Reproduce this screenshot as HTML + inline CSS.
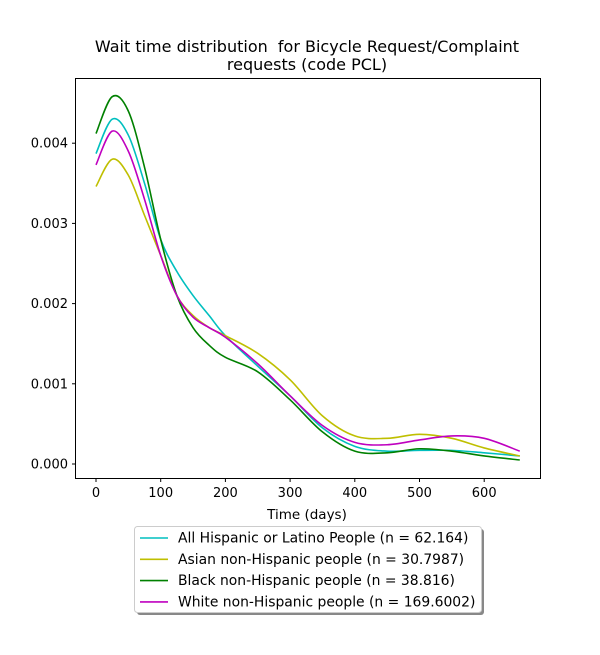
<!DOCTYPE html>
<html><head><meta charset="utf-8"><style>
body{margin:0;background:#fff;}
svg text{font-family:"DejaVu Sans","Liberation Sans",sans-serif;}
</style></head><body>
<svg id="chart" width="600" height="650" xmlns="http://www.w3.org/2000/svg">
<rect width="600" height="650" fill="#fff"/>
<text x="307" y="52" font-size="16" text-anchor="middle" style="white-space:pre">Wait time distribution&#160; for Bicycle Request/Complaint</text>
<text x="307" y="70" font-size="16" text-anchor="middle">requests (code PCL)</text>
<g id="axes"></g>
<g id="lines"></g>
<rect x="75.5" y="78.5" width="465" height="400" fill="none" stroke="#000" stroke-width="1"/>
<text x="307" y="519" font-size="13.5" text-anchor="middle">Time (days)</text>
<g id="legend">
<rect x="137" y="529" width="347" height="86" rx="3" fill="#888"/>
<rect x="134.5" y="526.5" width="347" height="86" rx="3" fill="#fff" stroke="#ccc"/>
</g>
</svg>
<script>
const xs=[0,25,50,75,100,125,150,175,200,250,300,350,400,450,500,550,600,655];
const hispanic=[0.00387,0.0043,0.0041,0.0035,0.0028,0.0024,0.0021,0.00185,0.0016,0.00122,0.00085,0.00045,0.00022,0.00016,0.00017,0.00017,0.00014,0.0001];
const asian=[0.00346,0.0038,0.0036,0.0031,0.0026,0.0021,0.00185,0.0017,0.0016,0.00138,0.00105,0.0006,0.00035,0.00032,0.00037,0.00032,0.0002,0.0001];
const black=[0.00412,0.00458,0.0044,0.0037,0.0028,0.0021,0.0017,0.00148,0.00133,0.00115,0.0008,0.0004,0.00016,0.00014,0.00019,0.00016,0.0001,0.00005];
const white=[0.00373,0.00415,0.0039,0.0033,0.0026,0.0021,0.00183,0.0017,0.00158,0.00125,0.00085,0.00048,0.00027,0.00024,0.0003,0.00035,0.00032,0.00016];
const xTicks=[0,100,200,300,400,500,600];
const yTicks=[0,0.001,0.002,0.003,0.004];
const seriesNames=["All Hispanic or Latino People (n = 62.164)","Asian non-Hispanic people (n = 30.7987)","Black non-Hispanic people (n = 38.816)","White non-Hispanic people (n = 169.6002)"];
const colors=["#00bfbf","#bfbf00","#008000","#bf00bf"];
const NS="http://www.w3.org/2000/svg";
const X=v=>96+v*0.647;
const Y=v=>464-v*80200;
function mk(t,a,p){const e=document.createElementNS(NS,t);for(const k in a)e.setAttribute(k,a[k]);p.appendChild(e);return e;}
const axes=document.getElementById('axes');
xTicks.forEach(t=>{
 const l=mk('line',{x1:X(t),x2:X(t),y1:478.5,y2:482,stroke:'#000'},axes);
 
 
 const tx=mk('text',{x:X(t),y:497,'font-size':13,'text-anchor':'middle'},axes);tx.textContent=t;
 
 
});
yTicks.forEach(t=>{
 const l=mk('line',{x1:72,x2:75.5,y1:Y(t),y2:Y(t),stroke:'#000'},axes);
 
 
 const tx=mk('text',{x:68,y:Y(t)+4.5,'font-size':13,'text-anchor':'end'},axes);tx.textContent=t.toFixed(3);
 
 
});
function pathD(ys){
 const p=xs.map((x,i)=>[X(x),Y(ys[i])]);
 let d='M'+p[0][0]+','+p[0][1];
 for(let i=0;i<p.length-1;i++){
  const p0=p[Math.max(0,i-1)],p1=p[i],p2=p[i+1],p3=p[Math.min(p.length-1,i+2)];
  const c1=[p1[0]+(p2[0]-p0[0])/6,p1[1]+(p2[1]-p0[1])/6];
  const c2=[p2[0]-(p3[0]-p1[0])/6,p2[1]-(p3[1]-p1[1])/6];
  d+=' C'+c1+' '+c2+' '+p2;
 }
 return d;
}
const lines=document.getElementById('lines');
const legend=document.getElementById('legend');
[hispanic,asian,black,white].forEach((s,i)=>{
 const p=mk('path',{d:pathD(s),fill:'none',stroke:colors[i],'stroke-width':1.6},lines);
 
 
 const y=538+i*21.3;
 const l=mk('line',{x1:140,x2:168,y1:y,y2:y,stroke:colors[i],'stroke-width':1.6},legend);
 
 
 const t=mk('text',{x:178,y:y+4.5,'font-size':13.9},legend);t.textContent=seriesNames[i];
 
 
});
</script>
</body></html>
